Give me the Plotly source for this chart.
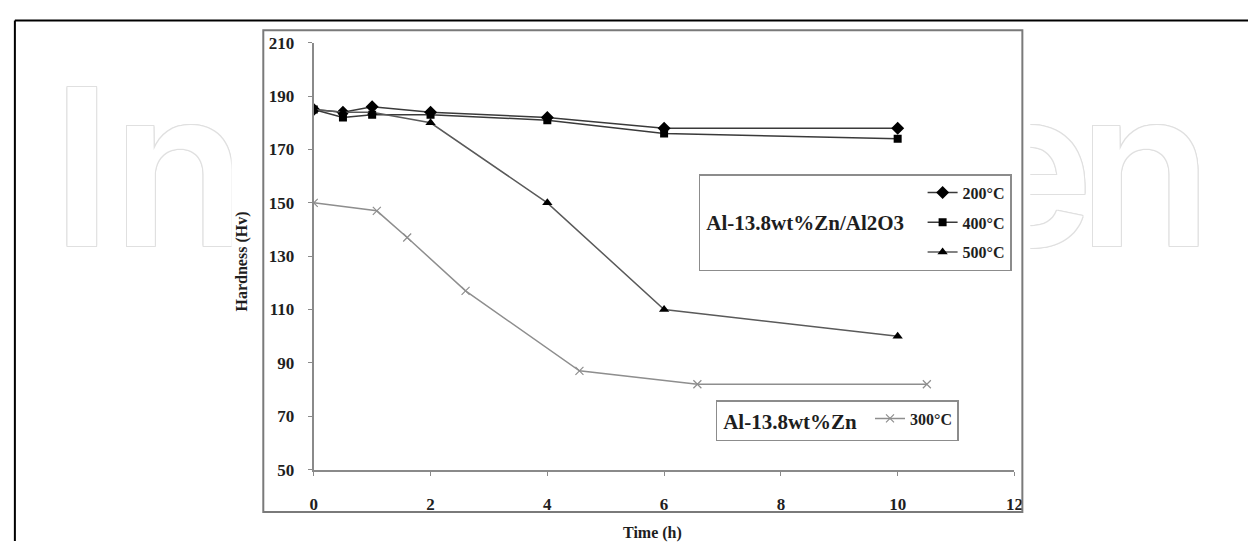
import plotly.graph_objects as go

W, H = 1257, 551

# Hardness of Al-13.8wt%Zn/Al2O3 composite after ageing at different temperatures
time_200 = [0, 0.5, 1, 2, 4, 6, 10]
hv_200 = [185, 184, 186, 184, 182, 178, 178]
time_400 = [0, 0.5, 1, 2, 4, 6, 10]
hv_400 = [185, 182, 183, 183, 181, 176, 174]
time_500 = [0, 0.5, 1, 2, 4, 6, 10]
hv_500 = [185, 184, 184, 180, 150, 110, 100]
# Unreinforced Al-13.8wt%Zn alloy
time_300 = [0, 1.08, 1.6, 2.6, 4.55, 6.57, 10.5]
hv_300 = [150, 147, 137, 117, 87, 82, 82]

x_ticks = [0, 2, 4, 6, 8, 10, 12]
y_ticks = [50, 70, 90, 110, 130, 150, 170, 190, 210]

SERIF = "Liberation Serif, Times New Roman, serif"
AXIS_GREY = "#8a8a8a"
TEXT = "#1e1e1e"


def fx(px):
    """x pixel -> paper fraction"""
    return px / W


def fy(py):
    """y pixel (from top) -> paper fraction"""
    return 1 - py / H


# plot area in pixels
PL, PR, PT, PB = 313, 1021, 35, 477
# white panel of the pasted figure and its grey chart-area frame
PANEL = dict(x0=230, x1=1037, y0=15, y1=H)
FRAME = dict(x0=262, x1=1029, y0=22, y1=521)

fig = go.Figure()

# background layer (pixel axes): faint outlined watermark, then the white panel
outline = "#e0e0e0"
shadow = ", ".join(
    f"{dx}px {dy}px 0 {outline}"
    for dx, dy in [(1, 0), (-1, 0), (0, 1), (0, -1), (1, 1), (-1, -1), (1, -1), (-1, 1)]
)
wm_font = dict(family="Inter, Lato, sans-serif", size=219, color="white",
               weight=600, shadow=shadow)
for txt, xpos, side in [("In", 48, "middle right"),
                        ("e", 1101, "middle left"),
                        ("n", 1221, "middle left")]:
    fig.add_trace(go.Scatter(x=[xpos], y=[189], mode="text", text=[txt],
                             textposition=side, textfont=wm_font,
                             showlegend=False, hoverinfo="skip", cliponaxis=False,
                             xaxis="x", yaxis="y"))
fig.add_trace(go.Scatter(
    x=[PANEL["x0"], PANEL["x1"], PANEL["x1"], PANEL["x0"], PANEL["x0"]],
    y=[PANEL["y0"], PANEL["y0"], PANEL["y1"], PANEL["y1"], PANEL["y0"]],
    mode="lines", fill="toself", fillcolor="white", line=dict(width=0),
    showlegend=False, hoverinfo="skip", xaxis="x", yaxis="y"))

# data series
fig.add_trace(go.Scatter(
    x=time_200, y=hv_200, name="200°C", mode="lines+markers",
    line=dict(color="#3a3a3a", width=1.5),
    marker=dict(symbol="diamond", size=10, color="black"),
    xaxis="x2", yaxis="y2", legend="legend", legendgroup="a"))
fig.add_trace(go.Scatter(
    x=time_400, y=hv_400, name="400°C", mode="lines+markers",
    line=dict(color="#3a3a3a", width=1.5),
    marker=dict(symbol="square", size=8, color="black"),
    xaxis="x2", yaxis="y2", legend="legend", legendgroup="b"))
fig.add_trace(go.Scatter(
    x=time_500, y=hv_500, name="500°C", mode="lines+markers",
    line=dict(color="#5a5a5a", width=1.5),
    marker=dict(symbol="triangle-up", size=9, color="black"),
    xaxis="x2", yaxis="y2", legend="legend", legendgroup="c"))
fig.add_trace(go.Scatter(
    x=time_300, y=hv_300, name="300°C", mode="lines+markers",
    line=dict(color="#8e8e8e", width=1.5),
    marker=dict(symbol="x-thin", size=8, color="#8e8e8e",
                line=dict(color="#8e8e8e", width=1.2)),
    xaxis="x2", yaxis="y2", legend="legend2"))

tick_font = dict(family=SERIF, size=17, color=TEXT, weight="bold")
legend_font = dict(family=SERIF, size=16, color=TEXT, weight="bold")
group_font = dict(family=SERIF, size=21, color=TEXT, weight="bold")
title_font = dict(family=SERIF, size=16, color=TEXT, weight="bold")

fig.update_layout(
    width=W, height=H,
    margin=dict(l=0, r=0, t=0, b=0),
    paper_bgcolor="white", plot_bgcolor="rgba(0,0,0,0)",
    xaxis=dict(domain=[0, 1], range=[0, W], visible=False, fixedrange=True),
    yaxis=dict(domain=[0, 1], range=[H, 0], visible=False, fixedrange=True),
    xaxis2=dict(domain=[fx(PL), fx(PR)], range=[0, 12], anchor="y2",
                tickvals=x_ticks, ticktext=[str(v) for v in x_ticks],
                showline=True, linecolor=AXIS_GREY, linewidth=2,
                ticks="outside", ticklen=4, tickcolor=AXIS_GREY, tickwidth=1,
                showgrid=False, zeroline=False, tickfont=tick_font,
                ticklabelstandoff=14),
    yaxis2=dict(domain=[fy(PB), fy(PT)], range=[50, 210], anchor="x2",
                tickvals=y_ticks, ticktext=[str(v) for v in y_ticks],
                showline=True, linecolor=AXIS_GREY, linewidth=2,
                ticks="outside", ticklen=4, tickcolor=AXIS_GREY, tickwidth=1,
                showgrid=False, zeroline=False, tickfont=tick_font,
                ticklabelstandoff=10),
    legend=dict(
        title=dict(text="<br> Al-13.8wt%Zn/Al2O3  ", side="left", font=group_font),
        x=fx(702), y=fy(171), xanchor="left", yanchor="top",
        bgcolor="white", bordercolor="#8c8c8c", borderwidth=1.5,
        font=legend_font, tracegroupgap=6, itemwidth=30, traceorder="grouped"),
    legend2=dict(
        title=dict(text=" Al-13.8wt%Zn ", side="left", font=group_font),
        x=fx(719), y=fy(405), xanchor="left", yanchor="top",
        bgcolor="white", bordercolor="#8c8c8c", borderwidth=1.5,
        font=legend_font, itemwidth=30),
    shapes=[
        dict(type="rect", xref="paper", yref="paper",
             x0=fx(FRAME["x0"]), x1=fx(FRAME["x1"]),
             y0=fy(FRAME["y1"]), y1=fy(FRAME["y0"]),
             line=dict(color="#7a7a7a", width=2), layer="above"),
        # outer black frame (left and top edges)
        dict(type="line", xref="paper", yref="paper",
             x0=fx(11), x1=fx(11), y0=0, y1=fy(12),
             line=dict(color="black", width=2), layer="above"),
        dict(type="line", xref="paper", yref="paper",
             x0=fx(11), x1=1, y0=fy(12), y1=fy(12),
             line=dict(color="black", width=2), layer="above"),
    ],
    annotations=[
        dict(text="Hardness (Hv)", xref="paper", yref="paper",
             x=fx(240), y=fy(262), xanchor="center", yanchor="middle",
             textangle=-90, showarrow=False, font=title_font),
        dict(text="Time (h)", xref="paper", yref="paper",
             x=fx(655), y=fy(543), xanchor="center", yanchor="middle",
             showarrow=False, font=title_font),
    ],
)

fig.write_html("out.html")
